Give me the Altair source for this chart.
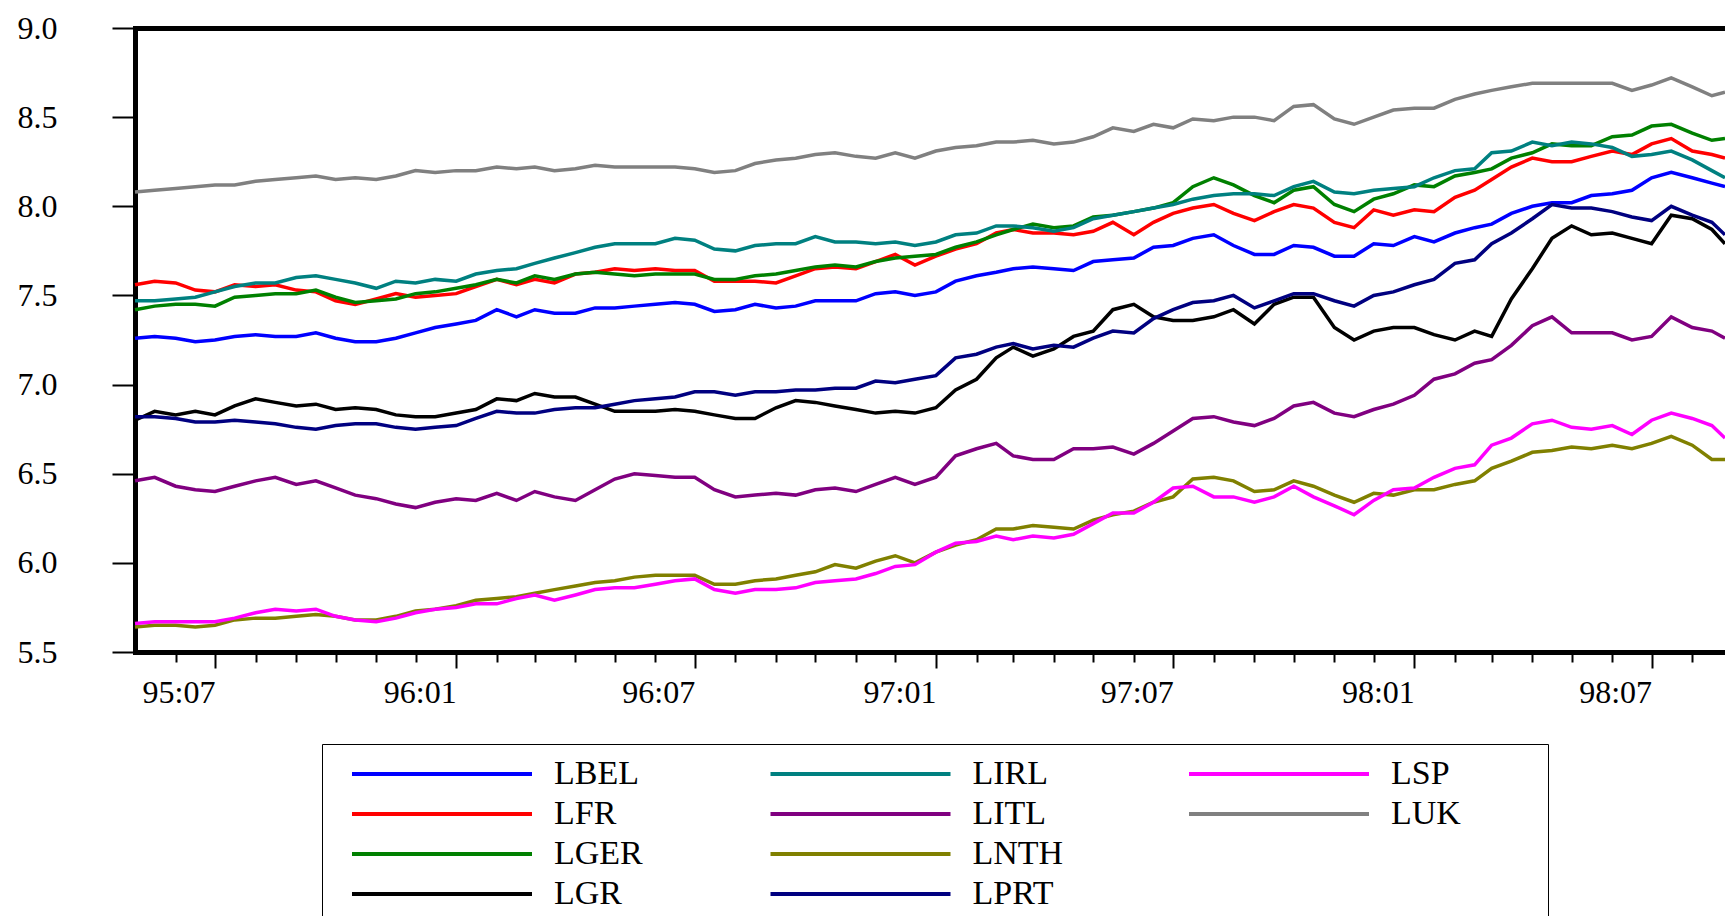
import altair as alt
import pandas as pd

# Half-monthly observation dates (1st and 16th of each month), May 1995 - Aug 1998
dates = [
    f"{1995 + (4 + i // 2) // 12}-{(4 + i // 2) % 12 + 1:02d}-{'01' if i % 2 == 0 else '16'}"
    for i in range(80)
] + ["1998-08-26"]

LBEL = [7.26, 7.27, 7.26, 7.24, 7.25, 7.27, 7.28, 7.27, 7.27, 7.29, 7.26, 7.24, 7.24, 7.26, 7.29, 7.32, 7.34, 7.36, 7.42, 7.38, 7.42, 7.40, 7.40, 7.43, 7.43, 7.44, 7.45,
        7.46, 7.45, 7.41, 7.42, 7.45, 7.43, 7.44, 7.47, 7.47, 7.47, 7.51, 7.52, 7.50, 7.52, 7.58, 7.61, 7.63, 7.65, 7.66, 7.65, 7.64, 7.69, 7.70, 7.71, 7.77, 7.78, 7.82,
        7.84, 7.78, 7.73, 7.73, 7.78, 7.77, 7.72, 7.72, 7.79, 7.78, 7.83, 7.80, 7.85, 7.88, 7.90, 7.96, 8.00, 8.02, 8.02, 8.06, 8.07, 8.09, 8.16, 8.19, 8.16, 8.13, 8.11]
LFR = [7.56, 7.58, 7.57, 7.53, 7.52, 7.56, 7.55, 7.56, 7.53, 7.52, 7.47, 7.45, 7.48, 7.51, 7.49, 7.50, 7.51, 7.55, 7.59, 7.56, 7.59, 7.57, 7.62, 7.63, 7.65, 7.64, 7.65,
       7.64, 7.64, 7.58, 7.58, 7.58, 7.57, 7.61, 7.65, 7.66, 7.65, 7.69, 7.73, 7.67, 7.72, 7.76, 7.79, 7.85, 7.87, 7.85, 7.85, 7.84, 7.86, 7.91, 7.84, 7.91, 7.96, 7.99,
       8.01, 7.96, 7.92, 7.97, 8.01, 7.99, 7.91, 7.88, 7.98, 7.95, 7.98, 7.97, 8.05, 8.09, 8.15, 8.22, 8.27, 8.25, 8.25, 8.28, 8.31, 8.29, 8.35, 8.38, 8.31, 8.29, 8.27]
LGER = [7.42, 7.44, 7.45, 7.45, 7.44, 7.49, 7.50, 7.51, 7.51, 7.53, 7.49, 7.46, 7.47, 7.48, 7.51, 7.52, 7.54, 7.56, 7.59, 7.57, 7.61, 7.59, 7.62, 7.63, 7.62, 7.61, 7.62,
        7.62, 7.62, 7.59, 7.59, 7.61, 7.62, 7.64, 7.66, 7.67, 7.66, 7.69, 7.71, 7.72, 7.73, 7.77, 7.80, 7.84, 7.87, 7.90, 7.88, 7.89, 7.94, 7.95, 7.97, 7.99, 8.02, 8.11,
        8.16, 8.12, 8.06, 8.02, 8.09, 8.11, 8.01, 7.97, 8.04, 8.07, 8.12, 8.11, 8.17, 8.19, 8.21, 8.27, 8.30, 8.35, 8.34, 8.34, 8.39, 8.40, 8.45, 8.46, 8.41, 8.37, 8.38]
LGR = [6.80, 6.85, 6.83, 6.85, 6.83, 6.88, 6.92, 6.90, 6.88, 6.89, 6.86, 6.87, 6.86, 6.83, 6.82, 6.82, 6.84, 6.86, 6.92, 6.91, 6.95, 6.93, 6.93, 6.89, 6.85, 6.85, 6.85,
       6.86, 6.85, 6.83, 6.81, 6.81, 6.87, 6.91, 6.90, 6.88, 6.86, 6.84, 6.85, 6.84, 6.87, 6.97, 7.03, 7.15, 7.21, 7.16, 7.20, 7.27, 7.30, 7.42, 7.45, 7.38, 7.36, 7.36,
       7.38, 7.42, 7.34, 7.45, 7.49, 7.49, 7.32, 7.25, 7.30, 7.32, 7.32, 7.28, 7.25, 7.30, 7.27, 7.48, 7.65, 7.82, 7.89, 7.84, 7.85, 7.82, 7.79, 7.95, 7.93, 7.87, 7.79]
LIRL = [7.47, 7.47, 7.48, 7.49, 7.52, 7.55, 7.57, 7.57, 7.60, 7.61, 7.59, 7.57, 7.54, 7.58, 7.57, 7.59, 7.58, 7.62, 7.64, 7.65, 7.68, 7.71, 7.74, 7.77, 7.79, 7.79, 7.79,
        7.82, 7.81, 7.76, 7.75, 7.78, 7.79, 7.79, 7.83, 7.80, 7.80, 7.79, 7.80, 7.78, 7.80, 7.84, 7.85, 7.89, 7.89, 7.88, 7.86, 7.88, 7.93, 7.95, 7.97, 7.99, 8.01, 8.04,
        8.06, 8.07, 8.07, 8.06, 8.11, 8.14, 8.08, 8.07, 8.09, 8.10, 8.11, 8.16, 8.20, 8.21, 8.30, 8.31, 8.36, 8.34, 8.36, 8.35, 8.33, 8.28, 8.29, 8.31, 8.26, 8.20, 8.16]
LITL = [6.46, 6.48, 6.43, 6.41, 6.40, 6.43, 6.46, 6.48, 6.44, 6.46, 6.42, 6.38, 6.36, 6.33, 6.31, 6.34, 6.36, 6.35, 6.39, 6.35, 6.40, 6.37, 6.35, 6.41, 6.47, 6.50, 6.49,
        6.48, 6.48, 6.41, 6.37, 6.38, 6.39, 6.38, 6.41, 6.42, 6.40, 6.44, 6.48, 6.44, 6.48, 6.60, 6.64, 6.67, 6.60, 6.58, 6.58, 6.64, 6.64, 6.65, 6.61, 6.67, 6.74, 6.81,
        6.82, 6.79, 6.77, 6.81, 6.88, 6.90, 6.84, 6.82, 6.86, 6.89, 6.94, 7.03, 7.06, 7.12, 7.14, 7.22, 7.33, 7.38, 7.29, 7.29, 7.29, 7.25, 7.27, 7.38, 7.32, 7.30, 7.26]
LNTH = [5.64, 5.65, 5.65, 5.64, 5.65, 5.68, 5.69, 5.69, 5.70, 5.71, 5.70, 5.68, 5.68, 5.70, 5.73, 5.74, 5.76, 5.79, 5.80, 5.81, 5.83, 5.85, 5.87, 5.89, 5.90, 5.92, 5.93,
        5.93, 5.93, 5.88, 5.88, 5.90, 5.91, 5.93, 5.95, 5.99, 5.97, 6.01, 6.04, 6.00, 6.06, 6.10, 6.13, 6.19, 6.19, 6.21, 6.20, 6.19, 6.24, 6.27, 6.29, 6.34, 6.37, 6.47,
        6.48, 6.46, 6.40, 6.41, 6.46, 6.43, 6.38, 6.34, 6.39, 6.38, 6.41, 6.41, 6.44, 6.46, 6.53, 6.57, 6.62, 6.63, 6.65, 6.64, 6.66, 6.64, 6.67, 6.71, 6.66, 6.58, 6.58]
LPRT = [6.82, 6.82, 6.81, 6.79, 6.79, 6.80, 6.79, 6.78, 6.76, 6.75, 6.77, 6.78, 6.78, 6.76, 6.75, 6.76, 6.77, 6.81, 6.85, 6.84, 6.84, 6.86, 6.87, 6.87, 6.89, 6.91, 6.92,
        6.93, 6.96, 6.96, 6.94, 6.96, 6.96, 6.97, 6.97, 6.98, 6.98, 7.02, 7.01, 7.03, 7.05, 7.15, 7.17, 7.21, 7.23, 7.20, 7.22, 7.21, 7.26, 7.30, 7.29, 7.37, 7.42, 7.46,
        7.47, 7.50, 7.43, 7.47, 7.51, 7.51, 7.47, 7.44, 7.50, 7.52, 7.56, 7.59, 7.68, 7.70, 7.79, 7.85, 7.93, 8.01, 7.99, 7.99, 7.97, 7.94, 7.92, 8.00, 7.95, 7.91, 7.84]
LSP = [5.66, 5.67, 5.67, 5.67, 5.67, 5.69, 5.72, 5.74, 5.73, 5.74, 5.70, 5.68, 5.67, 5.69, 5.72, 5.74, 5.75, 5.77, 5.77, 5.80, 5.82, 5.79, 5.82, 5.85, 5.86, 5.86, 5.88,
       5.90, 5.91, 5.85, 5.83, 5.85, 5.85, 5.86, 5.89, 5.90, 5.91, 5.94, 5.98, 5.99, 6.06, 6.11, 6.12, 6.15, 6.13, 6.15, 6.14, 6.16, 6.22, 6.28, 6.28, 6.34, 6.42, 6.43,
       6.37, 6.37, 6.34, 6.37, 6.43, 6.37, 6.32, 6.27, 6.35, 6.41, 6.42, 6.48, 6.53, 6.55, 6.66, 6.70, 6.78, 6.80, 6.76, 6.75, 6.77, 6.72, 6.80, 6.84, 6.81, 6.77, 6.70]
LUK = [8.08, 8.09, 8.10, 8.11, 8.12, 8.12, 8.14, 8.15, 8.16, 8.17, 8.15, 8.16, 8.15, 8.17, 8.20, 8.19, 8.20, 8.20, 8.22, 8.21, 8.22, 8.20, 8.21, 8.23, 8.22, 8.22, 8.22,
       8.22, 8.21, 8.19, 8.20, 8.24, 8.26, 8.27, 8.29, 8.30, 8.28, 8.27, 8.30, 8.27, 8.31, 8.33, 8.34, 8.36, 8.36, 8.37, 8.35, 8.36, 8.39, 8.44, 8.42, 8.46, 8.44, 8.49,
       8.48, 8.50, 8.50, 8.48, 8.56, 8.57, 8.49, 8.46, 8.50, 8.54, 8.55, 8.55, 8.60, 8.63, 8.65, 8.67, 8.69, 8.69, 8.69, 8.69, 8.69, 8.65, 8.68, 8.72, 8.67, 8.62, 8.64]

series = {
    "LBEL": LBEL, "LFR": LFR, "LGER": LGER, "LGR": LGR, "LIRL": LIRL,
    "LITL": LITL, "LNTH": LNTH, "LPRT": LPRT, "LSP": LSP, "LUK": LUK,
}
colors = {
    "LBEL": "#0000ff", "LFR": "#ff0000", "LGER": "#008000", "LGR": "#000000",
    "LIRL": "#008080", "LITL": "#800080", "LNTH": "#808000", "LPRT": "#000080",
    "LSP": "#ff00ff", "LUK": "#808080",
}

# Long table, series kept in their drawing order
df = pd.DataFrame(
    [{"date": d, "series": name, "value": v}
     for name, vals in series.items() for d, v in zip(dates, vals)]
)

# Legend fills column by column, four rows deep; one blank slot completes the grid
legend_keys = list(series) + [" "]
legend_colors = [colors.get(k, "#ffffff") for k in legend_keys]

FONT = "Liberation Serif"
# trailing no-break spaces (kept by a closing zero-width space) widen the legend columns
label_pad = "\u00a0" * 9 + "\u200b"

xscale = alt.Scale(type="utc", domain=["1995-05-01", "1998-08-26"])
month_ticks = [
    alt.DateTime(year=1995 + (5 + k) // 12, month=(5 + k) % 12 + 1, date=1, utc=True)
    for k in range(39)
]

bottom_axis = alt.Axis(
    values=month_ticks,
    labelExpr="(utcmonth(datum.value) % 6 == 0) ? utcFormat(datum.value, '%y:%m') : ''",
    tickSize=alt.condition("utcmonth(datum.value) % 6 == 0", alt.value(16), alt.value(10)),
    tickWidth=2, tickColor="black",
    domainWidth=5, domainColor="black", domainCap="square",
    labelFont=FONT, labelFontSize=32, labelColor="black",
    labelAlign="right", labelBaseline="top", labelPadding=9,
    labelOverlap=False, labelBound=False, labelFlush=False,
    grid=False, title=None,
)
top_axis = alt.Axis(
    orient="top", labels=False, ticks=False,
    domainWidth=5, domainColor="black", domainCap="square",
    grid=False, title=None,
)
y_axis = alt.Axis(
    values=[5.5, 6.0, 6.5, 7.0, 7.5, 8.0, 8.5, 9.0], format=".1f",
    tickSize=23, tickWidth=2, tickColor="black",
    domainWidth=5, domainColor="black", domainCap="square",
    labelFont=FONT, labelFontSize=32, labelColor="black",
    labelAlign="right", labelBaseline="middle", labelPadding=55,
    labelOverlap=False, labelBound=False, labelFlush=False,
    grid=False, title=None,
)

legend = alt.Legend(
    orient="none", legendX=187, legendY=716,
    columns=3, gridAlign="all", columnPadding=28.5, rowPadding=0,
    symbolType="stroke", symbolSize=180 * 180, symbolStrokeWidth=4,
    symbolOffset=18, clipHeight=40,
    labelFont=FONT, labelFontSize=34, labelColor="black", labelOffset=20,
    labelExpr=f"datum.label + '{label_pad}'", labelLimit=0,
    padding=10, strokeColor="black",
    title=None,
)

lines = alt.Chart(df).mark_line(strokeWidth=3.5).encode(
    x=alt.X("date:T", scale=xscale, axis=bottom_axis),
    y=alt.Y("value:Q", scale=alt.Scale(domain=[5.5, 9.0], nice=False, zero=False), axis=y_axis),
    color=alt.Color("series:N", scale=alt.Scale(domain=legend_keys, range=legend_colors), legend=legend),
)

frame_top = alt.Chart(df).mark_point(opacity=0, size=0).encode(
    x=alt.X("date:T", scale=xscale, axis=top_axis),
    y=alt.Y("value:Q", axis=None),
)

chart = (
    alt.layer(lines, frame_top)
    .resolve_axis(x="independent", y="independent")
    .properties(
        width=1590, height=624,
        autosize=alt.AutoSizeParams(type="none"),
        padding={"left": 135, "top": 28, "right": 0, "bottom": 264},
    )
    .configure_view(stroke=None)
    .configure_legend(strokeWidth=2)
    .configure(background="white")
)

chart.save("out.html", embed_options={"renderer": "svg", "actions": False})
